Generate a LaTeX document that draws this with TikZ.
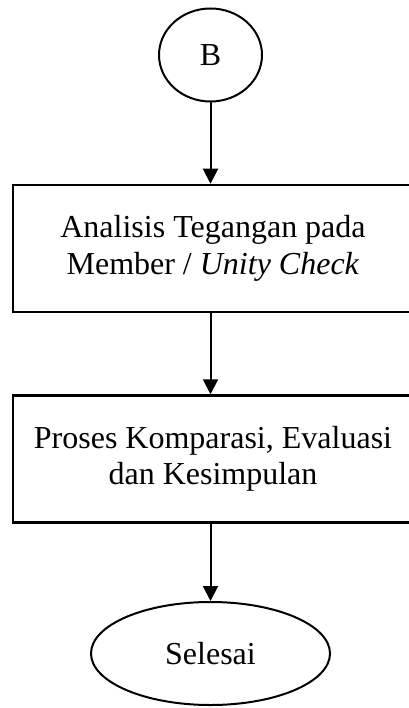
\documentclass[tikz,border=0pt]{standalone}
\usepackage{fontspec}
\setmainfont{Liberation Serif}
\usetikzlibrary{shapes.geometric,arrows.meta}

\tikzset{
  terminal/.style={draw, ellipse, line width=2pt, inner sep=0pt, font=\fontsize{32}{36}\selectfont},
  process/.style={draw, rectangle, line width=2.5pt, inner sep=0pt, align=center,
                  minimum width=400pt, minimum height=127pt,
                  font=\fontsize{32}{36.5}\selectfont},
  flow/.style={line width=2pt, -{Triangle[length=15pt,width=15pt]}}
}

\begin{document}
\begin{tikzpicture}[x=1pt,y=-1pt]
  \useasboundingbox (0,0) rectangle (408,708);

  \node[terminal, minimum width=103pt, minimum height=93pt] (b) at (210.5,55) {B};
  \node[process] (analisis) at (213,248.5)
    {Analisis Tegangan pada\\Member / \textit{Unity Check}};
  \node[process] (proses) at (213,459)
    {Proses Komparasi, Evaluasi\\dan Kesimpulan};
  \node[terminal, minimum width=239pt, minimum height=103pt] (selesai) at (210.5,653.5) {Selesai};

  \draw[flow] (b.south) -- (b.south |- analisis.north);
  \draw[flow] (b.south |- analisis.south) -- (b.south |- proses.north);
  \draw[flow] (b.south |- proses.south) -- (selesai.north);
\end{tikzpicture}
\end{document}
